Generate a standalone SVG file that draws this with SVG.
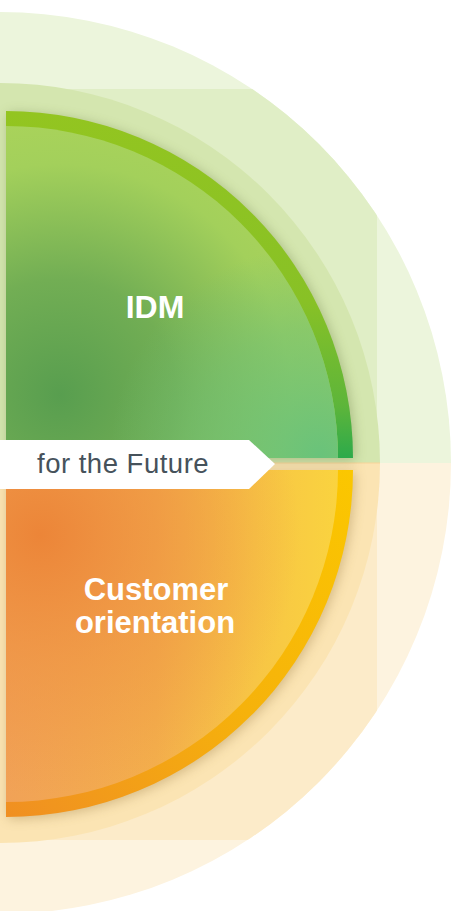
<svg xmlns="http://www.w3.org/2000/svg" width="452" height="911" viewBox="0 0 452 911">
<style>
.lbl{font-family:"Liberation Sans",Arial,sans-serif;font-weight:bold;fill:#ffffff;text-anchor:middle}
.ban{font-family:"Liberation Sans",Arial,sans-serif;fill:#46525b}
</style>
<defs>
<clipPath id="outer"><circle cx="0" cy="463" r="451"/></clipPath>
<filter id="sh" x="-20%" y="-20%" width="140%" height="140%"><feGaussianBlur stdDeviation="6"/></filter>
<radialGradient id="gFill" gradientUnits="userSpaceOnUse" cx="60" cy="395" r="330">
<stop offset="0" stop-color="#589e4f"/><stop offset="0.35" stop-color="#72ae54"/><stop offset="0.7" stop-color="#a3d05b"/><stop offset="1" stop-color="#b0d65a"/>
</radialGradient>
<radialGradient id="gTeal" gradientUnits="userSpaceOnUse" cx="320" cy="455" r="210">
<stop offset="0" stop-color="#66c27c" stop-opacity="0.95"/><stop offset="0.6" stop-color="#6cc079" stop-opacity="0.5"/><stop offset="1" stop-color="#6cc079" stop-opacity="0"/>
</radialGradient>
<linearGradient id="gRing" gradientUnits="userSpaceOnUse" x1="0" y1="111" x2="0" y2="458">
<stop offset="0" stop-color="#93c520"/><stop offset="0.55" stop-color="#88c126"/><stop offset="0.85" stop-color="#5db53a"/><stop offset="1" stop-color="#2daa4b"/>
</linearGradient>
<linearGradient id="oBase" gradientUnits="userSpaceOnUse" x1="6" y1="0" x2="338" y2="0">
<stop offset="0" stop-color="#f1a257"/><stop offset="0.45" stop-color="#f3ae4c"/><stop offset="0.75" stop-color="#f7c545"/><stop offset="1" stop-color="#fad33f"/>
</linearGradient>
<radialGradient id="oDark" gradientUnits="userSpaceOnUse" cx="40" cy="535" r="260">
<stop offset="0" stop-color="#ec8538" stop-opacity="1"/><stop offset="0.5" stop-color="#ee9040" stop-opacity="0.55"/><stop offset="1" stop-color="#ee9040" stop-opacity="0"/>
</radialGradient>
<linearGradient id="oRing" gradientUnits="userSpaceOnUse" x1="350" y1="470" x2="6" y2="817">
<stop offset="0" stop-color="#fbc700"/><stop offset="0.5" stop-color="#f6b20b"/><stop offset="1" stop-color="#f08f22"/>
</linearGradient>
</defs>

<g id="background">
<path d="M0,12 A451,451 0 0 1 451,463 L0,463 Z" fill="#ecf5dc"/>
<path d="M451,463 A451,451 0 0 1 0,914 L0,463 Z" fill="#fdf3df"/>
<g clip-path="url(#outer)">
<rect x="0" y="89" width="377" height="374" fill="#e0eec6"/>
<rect x="0" y="463" width="377" height="377" fill="#fcebc9"/>
</g>
<path d="M0,83 A380,380 0 0 1 380,463 L0,463 Z" fill="#d4e6af"/>
<path d="M380,463 A380,380 0 0 1 0,843 L0,463 Z" fill="#fbe4b3"/>
<rect x="0" y="462.5" width="380" height="1" fill="#f7d39a"/>
</g>

<g id="shadows" filter="url(#sh)" opacity="0.35">
<path d="M6,458 L6,111 A347,347 0 0 1 353,458 Z" transform="translate(2,2)" fill="#5a6a30"/>
<path d="M6,470 L353,470 A347,347 0 0 1 6,817 Z" transform="translate(2,2)" fill="#8a6a30"/>
</g>

<g id="idm">
<path d="M6,458 L6,111 A347,347 0 0 1 353,458 Z" fill="url(#gRing)"/>
<path d="M6,458 L6,126 A332,332 0 0 1 338,458 Z" fill="url(#gFill)"/>
<path d="M6,458 L6,126 A332,332 0 0 1 338,458 Z" fill="url(#gTeal)"/>
<text class="lbl" x="155" y="318" font-size="32">IDM</text>
</g>

<g id="customer">
<path d="M6,470 L353,470 A347,347 0 0 1 6,817 Z" fill="url(#oRing)"/>
<path d="M6,470 L338,470 A332,332 0 0 1 6,802 Z" fill="url(#oBase)"/>
<path d="M6,470 L338,470 A332,332 0 0 1 6,802 Z" fill="url(#oDark)"/>
<text class="lbl" x="156" y="600" font-size="31">Customer</text>
<text class="lbl" x="155" y="633" font-size="31">orientation</text>
</g>

<g id="banner">
<polygon points="0,440 249,440 275,464 249,489 0,489" fill="#ffffff"/>
<text class="ban" x="37" y="473" font-size="27.5" letter-spacing="0.5">for the Future</text>
</g>
<g id="connectors"/>
</svg>
